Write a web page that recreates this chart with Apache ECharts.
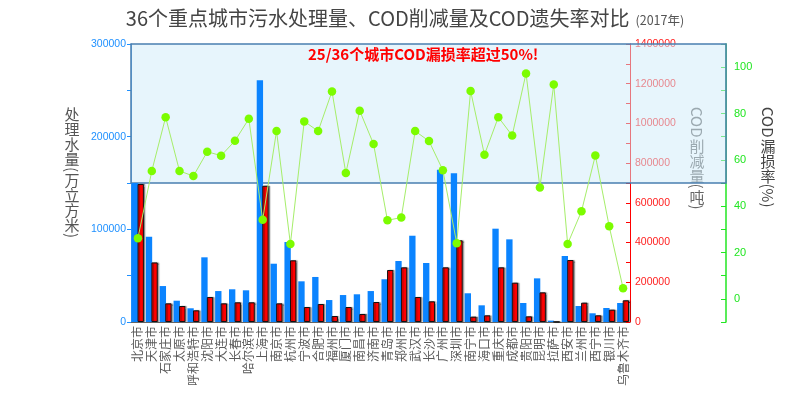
<!DOCTYPE html>
<html>
<head>
<meta charset="utf-8">
<script src="https://cdn.jsdelivr.net/npm/echarts@6/dist/echarts.min.js"></script>
<style>
  html, body { margin: 0; padding: 0; background: #fff; }
  #main { width: 810px; height: 396px; }
</style>
</head>
<body>
<div id="main"></div>
<script>
// 36个重点城市
var cities = ['北京市', '天津市', '石家庄市', '太原市', '呼和浩特市', '沈阳市', '大连市', '长春市', '哈尔滨市',
  '上海市', '南京市', '杭州市', '宁波市', '合肥市', '福州市', '厦门市', '南昌市', '济南市', '青岛市',
  '郑州市', '武汉市', '长沙市', '广州市', '深圳市', '南宁市', '海口市', '重庆市', '成都市', '贵阳市',
  '昆明市', '拉萨市', '西安市', '兰州市', '西宁市', '银川市', '乌鲁木齐市']

// 处理水量（万立方米）
var waterVolume = [150000, 92000, 38800, 23000, 14800, 69800, 33400, 35300, 34200,
  261000, 62900, 86300, 43900, 48600, 23700, 29100, 29900, 33400, 46100,
  65800, 93100, 63700, 164400, 160400, 31000, 18000, 100700, 89200, 20500,
  47100, 1500, 71200, 17300, 9400, 15100, 20500]

// COD削减量（吨）
var codReduction = [695000, 300000, 94000, 80600, 58900, 125900, 94000, 99200, 99200,
  686000, 94000, 310700, 75500, 90600, 30200, 75500, 40300, 100700, 261900,
  275300, 125900, 104200, 275300, 411400, 26900, 33600, 275300, 198000, 28500,
  149400, 1000, 312200, 97400, 33600, 62100, 109300]

// COD漏损率（%）
var codLossRate = [26.2, 55.2, 78.4, 55.2, 53.0, 63.5, 61.8, 68.2, 77.7,
  34.1, 72.4, 23.7, 76.6, 72.4, 89.5, 54.3, 81.2, 66.8, 33.9,
  35.1, 72.4, 68.1, 55.5, 24.0, 89.7, 62.2, 78.4, 70.5, 97.3,
  48.1, 92.5, 23.7, 37.8, 61.9, 31.3, 4.6]

var chart = echarts.init(document.getElementById('main'))

var cjkFont = '"Noto Sans CJK SC", sans-serif'
var numFont = '"Liberation Sans", Arial, sans-serif'

// 竖排的轴名称：汉字直立，英文和括号旋转
function verticalName(str, x, y, size, color, z) {
  var ctx = document.createElement('canvas').getContext('2d')
  var font = size + 'px ' + cjkFont
  ctx.font = font
  var runs = str.match(/[\u4e00-\u9fff]|[^\u4e00-\u9fff]+/g)
  var children = []
  var cy = y
  runs.forEach(function (r) {
    if (/[\u4e00-\u9fff]/.test(r)) {
      children.push({
        type: 'text', x: x, y: cy, z: z,
        style: { text: r, font: font, fill: color, textAlign: 'center', textVerticalAlign: 'top' }
      })
      cy += size
    } else {
      var w = ctx.measureText(r).width
      children.push({
        type: 'text', x: x, y: cy, z: z, rotation: -Math.PI / 2,
        style: { text: r, font: font, fill: color, textAlign: 'left', textVerticalAlign: 'middle' }
      })
      cy += w + 1
    }
  })
  return children
}

var option = {
  backgroundColor: '#fff',
  title: {
    left: 'center',
    top: 3,
    text: '{a|36个重点城市污水处理量、COD削减量及COD遗失率对比}{b|(2017年)}',
    textStyle: {
      rich: {
        a: { fontSize: 20, color: '#444', fontFamily: cjkFont, fontWeight: 'normal' },
        b: { fontSize: 12.5, color: '#555', fontFamily: cjkFont, fontWeight: 'normal', padding: [4, 0, 0, 6] }
      }
    }
  },
  grid: [
    { left: 131, right: 180, top: 44, bottom: 74 },
    { left: 131, right: 84, top: 44, bottom: 74 }
  ],
  xAxis: [
    {
      type: 'category',
      gridIndex: 0,
      data: cities,
      axisTick: { show: false },
      axisLine: { lineStyle: { color: '#666' } },
      axisLabel: {
        interval: 0,
        rotate: 90,
        margin: 4,
        fontSize: 12,
        color: '#5a5a5a',
        fontFamily: cjkFont
      }
    },
    { type: 'value', gridIndex: 1, show: false, min: 0, max: 1 }
  ],
  yAxis: [
    {
      type: 'value',
      gridIndex: 0,
      min: 0,
      max: 300000,
      interval: 50000,
      splitLine: { show: false },
      axisLine: { show: true, lineStyle: { color: '#1e90ff' } },
      axisTick: { show: true, length: 4 },
      axisLabel: {
        color: '#1e90ff', fontSize: 10.5, fontFamily: numFont, margin: 5,
        formatter: function (v) { return v % 100000 === 0 ? v : '' }
      }
    },
    {
      type: 'value',
      gridIndex: 0,
      position: 'right',
      min: 0,
      max: 1400000,
      interval: 100000,
      splitLine: { show: false },
      axisLine: { show: true, lineStyle: { color: '#ff0000' } },
      axisTick: { show: true, inside: true, length: 4 },
      axisLabel: {
        color: '#ff2020', fontSize: 10.5, fontFamily: numFont, margin: 5,
        formatter: function (v) { return v % 200000 === 0 ? v : '' }
      }
    },
    {
      type: 'value',
      gridIndex: 0,
      position: 'right',
      offset: 96,
      min: -10,
      max: 110,
      interval: 10,
      splitLine: { show: false },
      axisLine: { show: true, lineStyle: { color: '#22e622', width: 1.5 } },
      axisTick: { show: true, inside: true, length: 5, lineStyle: { color: '#22e622' } },
      axisLabel: {
        color: '#22e622', fontSize: 11, fontFamily: numFont, margin: 8,
        formatter: function (v) { return v % 20 === 0 ? v : '' }
      }
    },
    { type: 'value', gridIndex: 1, show: false, min: -10, max: 110 }
  ],
  graphic: [
    {
      type: 'group',
      children: verticalName('处理水量(万立方米)', 72, 107, 15, '#555', 1)
    },
    {
      type: 'group',
      children: verticalName('COD削减量(吨)', 697, 107, 15, '#666', 1)
    },
    {
      type: 'group',
      children: verticalName('COD漏损率(%)', 768, 107, 15, '#444', 1)
    },
    {
      type: 'text',
      left: 308,
      top: 47,
      z: 100,
      style: {
        text: '25/36个城市COD漏损率超过50%!',
        fill: '#ff0000',
        font: 'bold 15px ' + cjkFont
      }
    }
  ],
  series: [
    {
      name: '处理水量',
      type: 'bar',
      xAxisIndex: 0,
      yAxisIndex: 0,
      barGap: '-12%',
      barCategoryGap: '14%',
      itemStyle: { color: '#0b84ff' },
      data: waterVolume
    },
    {
      name: 'COD削减量',
      type: 'bar',
      xAxisIndex: 0,
      yAxisIndex: 1,
      itemStyle: {
        color: '#ff0000',
        borderColor: '#111',
        borderWidth: 1,
        shadowColor: 'rgba(0,0,0,0.35)',
        shadowOffsetX: 1.5,
        shadowBlur: 1
      },
      data: codReduction
    },
    {
      name: 'COD漏损率',
      type: 'line',
      xAxisIndex: 0,
      yAxisIndex: 2,
      symbol: 'circle',
      symbolSize: 8.5,
      itemStyle: { color: '#7cfc00' },
      lineStyle: { color: '#a6ee6a', width: 1 },
      data: codLossRate
    },
    {
      name: '超过50%',
      type: 'line',
      xAxisIndex: 1,
      yAxisIndex: 3,
      z: 10,
      silent: true,
      data: [],
      markArea: {
        silent: true,
        itemStyle: {
          color: 'rgba(208,235,249,0.5)',
          borderColor: '#4a7fb0',
          borderWidth: 1.5
        },
        data: [[{ yAxis: 50 }, { yAxis: 110 }]]
      }
    }
  ]
}

chart.setOption(option)
</script>
</body>
</html>
